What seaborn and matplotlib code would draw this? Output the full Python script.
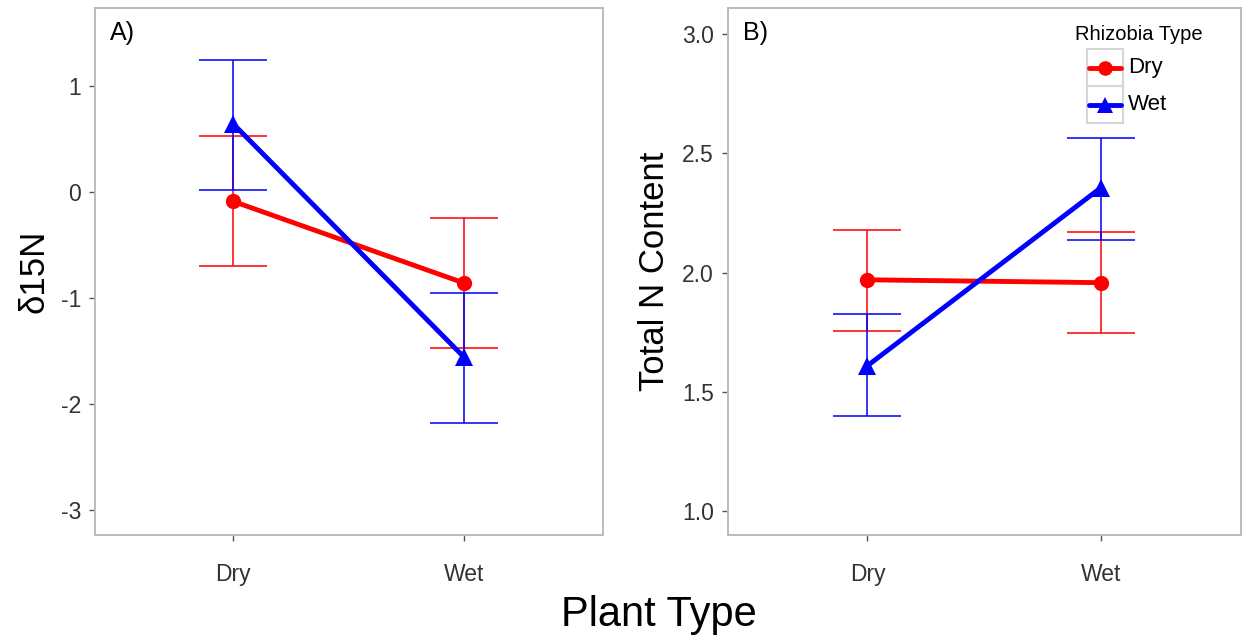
import matplotlib
matplotlib.use("Agg")
import matplotlib.pyplot as plt
import seaborn as sns
import pandas as pd
from matplotlib.lines import Line2D
from matplotlib.patches import Rectangle

# ---- data ----
plant_types = ["Dry", "Wet"]
rhizobia_types = ["Dry", "Wet"]

d15n_dry_mean = [-0.09, -0.86]
d15n_dry_lo = [-0.70, -1.47]
d15n_dry_hi = [0.53, -0.245]
d15n_wet_mean = [0.64, -1.56]
d15n_wet_lo = [0.02, -2.18]
d15n_wet_hi = [1.245, -0.95]

totn_dry_mean = [1.97, 1.958]
totn_dry_lo = [1.755, 1.745]
totn_dry_hi = [2.18, 2.17]
totn_wet_mean = [1.61, 2.355]
totn_wet_lo = [1.398, 2.138]
totn_wet_hi = [1.826, 2.565]

yticks_a = [1, 0, -1, -2, -3]
yticks_b = [1.0, 1.5, 2.0, 2.5, 3.0]

palette = {"Dry": "#FF0000", "Wet": "#0000FF"}
markers = {"Dry": "o", "Wet": "^"}

sns.set_theme(style="white")
plt.rcParams["font.family"] = ["Liberation Sans", "DejaVu Sans"]
plt.rcParams["axes.unicode_minus"] = False
plt.rcParams["text.color"] = "black"
plt.rcParams["axes.labelcolor"] = "black"

W, H = 1248, 644
fig = plt.figure(figsize=(W / 100, H / 100), dpi=100)
axA = fig.add_axes([0.076, 0.169, 0.407, 0.819])
axB = fig.add_axes([0.583, 0.169, 0.411, 0.819])


def make_df(dm, dl, dh, wm, wl, wh):
    rows = []
    for i, p in enumerate(plant_types):
        rows.append(dict(plant=p, rhiz="Dry", mean=dm[i], lo=dl[i], hi=dh[i]))
    for i, p in enumerate(plant_types):
        rows.append(dict(plant=p, rhiz="Wet", mean=wm[i], lo=wl[i], hi=wh[i]))
    return pd.DataFrame(rows)


dfA = make_df(d15n_dry_mean, d15n_dry_lo, d15n_dry_hi,
              d15n_wet_mean, d15n_wet_lo, d15n_wet_hi)
dfB = make_df(totn_dry_mean, totn_dry_lo, totn_dry_hi,
              totn_wet_mean, totn_wet_lo, totn_wet_hi)


def draw(ax, df):
    for r in rhizobia_types:
        sub = df[df.rhiz == r]
        xs = [plant_types.index(p) for p in sub.plant]
        ax.errorbar(xs, sub["mean"],
                    yerr=[sub["mean"] - sub["lo"], sub["hi"] - sub["mean"]],
                    fmt="none", ecolor=palette[r], elinewidth=1.3,
                    capsize=24.5, capthick=1.3, alpha=0.85, zorder=1)
    for r in rhizobia_types:
        sub = df[df.rhiz == r]
        sns.lineplot(data=sub, x="plant", y="mean", ax=ax, color=palette[r],
                     marker=markers[r], markersize=11 if r == "Dry" else 13,
                     markeredgewidth=0, linewidth=3.5, sort=False,
                     legend=False, zorder=3)
    ax.set_xlim(-0.6, 1.6)
    ax.set_xticks([0, 1])
    ax.set_xticklabels(plant_types)
    ax.set_xlabel("")
    for s in ax.spines.values():
        s.set_color("#BBBBBB")
        s.set_linewidth(1.4)
    ax.tick_params(axis="both", which="both", direction="out", length=4,
                   width=1, color="#555555", labelsize=16.5,
                   labelcolor="#333333", bottom=True, left=True)
    ax.tick_params(axis="x", pad=16)
    ax.tick_params(axis="y", pad=6)
    ax.grid(False)


draw(axA, dfA)
axA.set_ylim(-3.236, 1.736)
axA.set_yticks(yticks_a)
axA.set_yticklabels([str(v) for v in yticks_a])
axA.set_ylabel("δ15N", fontsize=25, labelpad=7)
axA.text(0.03, 0.975, "A)", transform=axA.transAxes, fontsize=18,
         ha="left", va="top")

draw(axB, dfB)
axB.set_ylim(0.90, 3.11)
axB.set_yticks(yticks_b)
axB.set_yticklabels([f"{v:.1f}" for v in yticks_b])
axB.set_ylabel("Total N Content", fontsize=25, labelpad=8)
axB.text(0.03, 0.975, "B)", transform=axB.transAxes, fontsize=18,
         ha="left", va="top")


# ---- ggplot-style legend (guide) built in figure pixel space ----
def fx(px):
    return px / W


def fy(py):
    return 1 - py / H


fig.text(fx(1139), fy(34), "Rhizobia Type", fontsize=14.5,
         ha="center", va="center")
box_x0, box_x1 = 1087, 1123
box_tops = [49, 86]
box_h = 37
for r, top in zip(rhizobia_types, box_tops):
    fig.patches.append(Rectangle((fx(box_x0), fy(top + box_h)),
                                 fx(box_x1) - fx(box_x0),
                                 fy(top) - fy(top + box_h),
                                 transform=fig.transFigure, fill=False,
                                 edgecolor="#D6D6D6", linewidth=1.5))
    cy = top + box_h / 2
    fig.lines.append(Line2D([fx(box_x0 + 2), fx(box_x1 - 2)], [fy(cy), fy(cy)],
                            transform=fig.transFigure, color=palette[r],
                            lw=3.5))
    fig.lines.append(Line2D([fx((box_x0 + box_x1) / 2)], [fy(cy)],
                            transform=fig.transFigure, color=palette[r],
                            marker=markers[r], linestyle="none",
                            markersize=10.5 if r == "Dry" else 12,
                            markeredgewidth=0))
    fig.text(fx(box_x1 + 5), fy(cy), r, fontsize=16, ha="left", va="center")

fig.text(0.528, 0.045, "Plant Type", fontsize=30, ha="center", va="center")

fig.savefig("out.png", dpi=100)
